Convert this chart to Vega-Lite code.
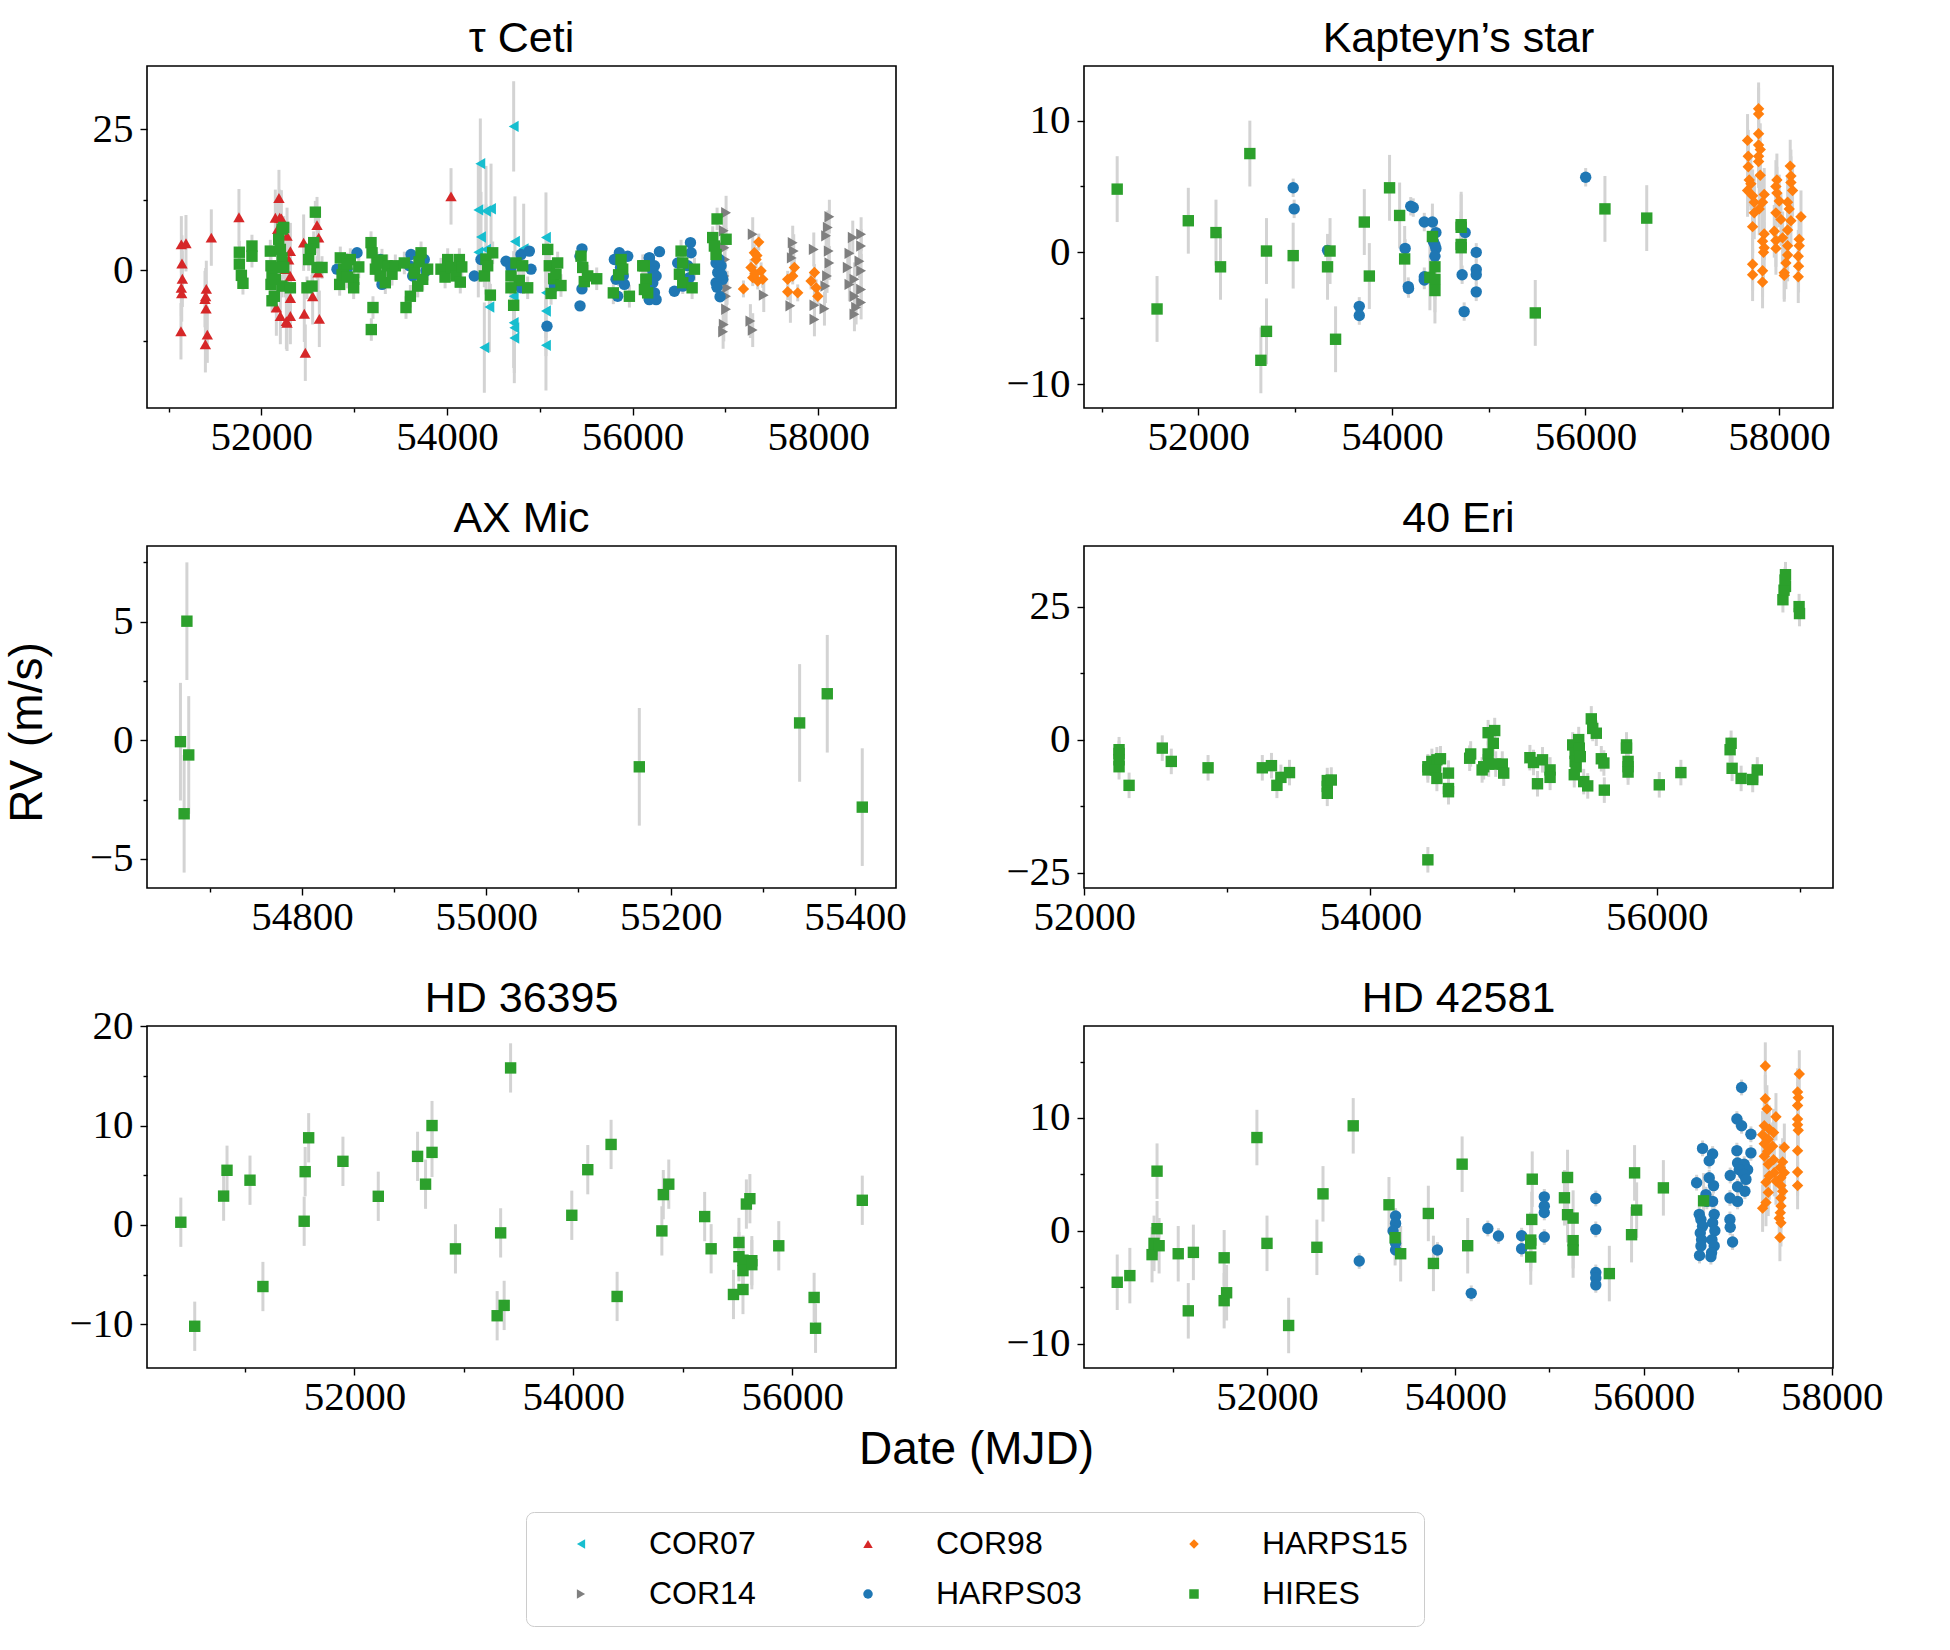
{
  "$schema": "https://vega.github.io/schema/vega-lite/v6.json",
  "background": "white",
  "padding": {"left": 3, "top": 17, "right": 5, "bottom": 5},
  "config": {
    "view": {"stroke": "black", "strokeWidth": 1.6},
    "axis": {"domain": false, "grid": false, "tickColor": "black", "tickWidth": 1.4, "tickSize": 7, "labelFont": "Liberation Serif", "labelFontSize": 41, "labelColor": "black", "labelFlush": false, "labelOverlap": false, "titleFont": "Liberation Sans", "titleFontSize": 46, "titleFontWeight": "normal", "titleColor": "black"},
    "axisX": {"labelPadding": 2},
    "axisY": {"labelPadding": 7},
    "title": {"font": "Liberation Sans", "fontSize": 43, "fontWeight": "normal", "color": "black", "offset": 5, "frame": "group"},
    "legend": {"labelFont": "Liberation Sans", "labelFontSize": 32, "labelColor": "black", "symbolSize": 90, "symbolStrokeWidth": 0, "symbolOpacity": 1}
  },
  "datasets": {
    "tau": [
      {"i":"COR07","t":54719,"v":25.5,"e":8},{"i":"COR07","t":54360,"v":18.9,"e":8},{"i":"COR07","t":54338,"v":10.7,"e":8},{"i":"COR07","t":54421,"v":10.5,"e":8},{"i":"COR07","t":54475,"v":10.9,"e":8},{"i":"COR07","t":54367,"v":5.9,"e":8},{"i":"COR07","t":54338,"v":3.2,"e":8},{"i":"COR07","t":54421,"v":3.7,"e":8},{"i":"COR07","t":54457,"v":-6.5,"e":8},{"i":"COR07","t":54403,"v":-13.7,"e":8},{"i":"COR07","t":54733,"v":5.1,"e":8},{"i":"COR07","t":54719,"v":-4.6,"e":8},{"i":"COR07","t":54719,"v":-9.3,"e":8},{"i":"COR07","t":54726,"v":-10.2,"e":8},{"i":"COR07","t":54726,"v":-12.0,"e":8},{"i":"COR07","t":55067,"v":5.8,"e":8},{"i":"COR07","t":55067,"v":-4.0,"e":8},{"i":"COR07","t":55067,"v":-7.2,"e":8},{"i":"COR07","t":55067,"v":-13.3,"e":8},{"i":"COR07","t":54827,"v":3.8,"e":8},
      {"i":"COR14","t":57008,"v":10.2,"e":3},{"i":"COR14","t":56983,"v":7.0,"e":3},{"i":"COR14","t":56990,"v":4.0,"e":3},{"i":"COR14","t":56997,"v":1.9,"e":3},{"i":"COR14","t":56990,"v":-1.0,"e":3},{"i":"COR14","t":57019,"v":-3.1,"e":3},{"i":"COR14","t":57008,"v":-4.6,"e":3},{"i":"COR14","t":57008,"v":-6.9,"e":3},{"i":"COR14","t":56983,"v":-9.6,"e":3},{"i":"COR14","t":56976,"v":-10.9,"e":3},{"i":"COR14","t":57295,"v":6.4,"e":3},{"i":"COR14","t":57270,"v":-9.0,"e":3},{"i":"COR14","t":57295,"v":-10.6,"e":3},{"i":"COR14","t":57414,"v":-4.4,"e":3},{"i":"COR14","t":57726,"v":4.9,"e":3},{"i":"COR14","t":57737,"v":3.4,"e":3},{"i":"COR14","t":57716,"v":2.2,"e":3},{"i":"COR14","t":57953,"v":3.7,"e":3},{"i":"COR14","t":57701,"v":-6.3,"e":3},{"i":"COR14","t":57960,"v":-6.2,"e":3},{"i":"COR14","t":57960,"v":-8.7,"e":3},{"i":"COR14","t":58121,"v":9.5,"e":3},{"i":"COR14","t":58104,"v":7.6,"e":3},{"i":"COR14","t":58086,"v":6.1,"e":3},{"i":"COR14","t":58114,"v":3.4,"e":3},{"i":"COR14","t":58121,"v":1.3,"e":3},{"i":"COR14","t":58096,"v":-1.0,"e":3},{"i":"COR14","t":58078,"v":-2.8,"e":3},{"i":"COR14","t":58068,"v":-6.8,"e":3},{"i":"COR14","t":58463,"v":6.4,"e":3},{"i":"COR14","t":58373,"v":5.8,"e":3},{"i":"COR14","t":58463,"v":4.3,"e":3},{"i":"COR14","t":58337,"v":3.0,"e":3},{"i":"COR14","t":58445,"v":1.6,"e":3},{"i":"COR14","t":58319,"v":0.5,"e":3},{"i":"COR14","t":58463,"v":-0.1,"e":3},{"i":"COR14","t":58391,"v":-1.6,"e":3},{"i":"COR14","t":58337,"v":-2.5,"e":3},{"i":"COR14","t":58463,"v":-3.4,"e":3},{"i":"COR14","t":58391,"v":-4.6,"e":3},{"i":"COR14","t":58463,"v":-5.7,"e":3},{"i":"COR14","t":58409,"v":-6.6,"e":3},{"i":"COR14","t":58391,"v":-7.8,"e":3},
      {"i":"COR98","t":51138,"v":4.6,"e":5},{"i":"COR98","t":51188,"v":4.8,"e":5},{"i":"COR98","t":51145,"v":1.2,"e":5},{"i":"COR98","t":51149,"v":-1.5,"e":5},{"i":"COR98","t":51138,"v":-3.1,"e":5},{"i":"COR98","t":51142,"v":-4.1,"e":5},{"i":"COR98","t":51134,"v":-10.8,"e":5},{"i":"COR98","t":51461,"v":5.8,"e":5},{"i":"COR98","t":51407,"v":-3.3,"e":5},{"i":"COR98","t":51400,"v":-4.6,"e":5},{"i":"COR98","t":51393,"v":-5.1,"e":5},{"i":"COR98","t":51404,"v":-6.8,"e":5},{"i":"COR98","t":51418,"v":-11.4,"e":5},{"i":"COR98","t":51397,"v":-13.1,"e":5},{"i":"COR98","t":51759,"v":9.4,"e":5},{"i":"COR98","t":52190,"v":12.8,"e":5},{"i":"COR98","t":52151,"v":9.3,"e":5},{"i":"COR98","t":52198,"v":9.3,"e":5},{"i":"COR98","t":52216,"v":9.2,"e":5},{"i":"COR98","t":52176,"v":7.3,"e":5},{"i":"COR98","t":52277,"v":6.1,"e":5},{"i":"COR98","t":52313,"v":3.4,"e":5},{"i":"COR98","t":52295,"v":1.9,"e":5},{"i":"COR98","t":52259,"v":0.2,"e":5},{"i":"COR98","t":52313,"v":-1.0,"e":5},{"i":"COR98","t":52295,"v":-2.8,"e":5},{"i":"COR98","t":52313,"v":-4.9,"e":5},{"i":"COR98","t":52162,"v":-6.6,"e":5},{"i":"COR98","t":52205,"v":-8.1,"e":5},{"i":"COR98","t":52270,"v":-9.0,"e":5},{"i":"COR98","t":52313,"v":-8.1,"e":5},{"i":"COR98","t":52277,"v":-9.3,"e":5},{"i":"COR98","t":52456,"v":4.9,"e":5},{"i":"COR98","t":52463,"v":-7.7,"e":5},{"i":"COR98","t":52474,"v":-14.6,"e":5},{"i":"COR98","t":52553,"v":-4.6,"e":5},{"i":"COR98","t":52600,"v":8.0,"e":5},{"i":"COR98","t":52618,"v":5.8,"e":5},{"i":"COR98","t":52625,"v":-8.6,"e":5},{"i":"COR98","t":52611,"v":-0.4,"e":5},{"i":"COR98","t":54044,"v":13.1,"e":5},
      {"i":"HARPS03","t":52815,"v":0.2,"e":0.6},{"i":"HARPS03","t":52923,"v":0.2,"e":0.6},{"i":"HARPS03","t":53031,"v":3.1,"e":0.6},{"i":"HARPS03","t":53282,"v":1.9,"e":0.6},{"i":"HARPS03","t":53300,"v":-2.5,"e":0.6},{"i":"HARPS03","t":53613,"v":2.8,"e":0.6},{"i":"HARPS03","t":53595,"v":0.8,"e":0.6},{"i":"HARPS03","t":53631,"v":-1.0,"e":0.6},{"i":"HARPS03","t":53756,"v":1.9,"e":0.6},{"i":"HARPS03","t":53774,"v":-0.1,"e":0.6},{"i":"HARPS03","t":54295,"v":-1.0,"e":0.6},{"i":"HARPS03","t":54367,"v":1.9,"e":0.6},{"i":"HARPS03","t":54637,"v":1.6,"e":0.6},{"i":"HARPS03","t":54690,"v":0.5,"e":0.6},{"i":"HARPS03","t":54798,"v":2.8,"e":0.6},{"i":"HARPS03","t":54888,"v":3.4,"e":0.6},{"i":"HARPS03","t":54906,"v":0.2,"e":0.6},{"i":"HARPS03","t":54798,"v":-3.1,"e":0.6},{"i":"HARPS03","t":55078,"v":-9.9,"e":0.6},{"i":"HARPS03","t":55157,"v":-2.8,"e":0.6},{"i":"HARPS03","t":55455,"v":3.8,"e":0.6},{"i":"HARPS03","t":55434,"v":2.5,"e":0.6},{"i":"HARPS03","t":55455,"v":-3.3,"e":0.6},{"i":"HARPS03","t":55434,"v":-6.3,"e":0.6},{"i":"HARPS03","t":55804,"v":1.9,"e":0.6},{"i":"HARPS03","t":55858,"v":3.1,"e":0.6},{"i":"HARPS03","t":55948,"v":2.5,"e":0.6},{"i":"HARPS03","t":55822,"v":-1.6,"e":0.6},{"i":"HARPS03","t":55912,"v":-2.5,"e":0.6},{"i":"HARPS03","t":55840,"v":-4.6,"e":0.6},{"i":"HARPS03","t":55870,"v":0.5,"e":0.6},{"i":"HARPS03","t":55900,"v":-1.0,"e":0.6},{"i":"HARPS03","t":56181,"v":2.2,"e":0.6},{"i":"HARPS03","t":56181,"v":-5.2,"e":0.6},{"i":"HARPS03","t":56290,"v":3.3,"e":0.6},{"i":"HARPS03","t":56182,"v":2.2,"e":0.6},{"i":"HARPS03","t":56236,"v":0.8,"e":0.6},{"i":"HARPS03","t":56220,"v":-0.2,"e":0.6},{"i":"HARPS03","t":56254,"v":-1.0,"e":0.6},{"i":"HARPS03","t":56218,"v":-2.2,"e":0.6},{"i":"HARPS03","t":56236,"v":-4.0,"e":0.6},{"i":"HARPS03","t":56254,"v":-5.2,"e":0.6},{"i":"HARPS03","t":56451,"v":-3.7,"e":0.6},{"i":"HARPS03","t":56624,"v":4.9,"e":0.6},{"i":"HARPS03","t":56631,"v":3.1,"e":0.6},{"i":"HARPS03","t":56487,"v":1.3,"e":0.6},{"i":"HARPS03","t":56595,"v":0.8,"e":0.6},{"i":"HARPS03","t":56613,"v":-1.3,"e":0.6},{"i":"HARPS03","t":56541,"v":-2.8,"e":0.6},{"i":"HARPS03","t":56900,"v":1.3,"e":0.6},{"i":"HARPS03","t":56954,"v":0.8,"e":0.6},{"i":"HARPS03","t":56918,"v":-0.4,"e":0.6},{"i":"HARPS03","t":56972,"v":-1.6,"e":0.6},{"i":"HARPS03","t":56900,"v":-2.2,"e":0.6},{"i":"HARPS03","t":56943,"v":-4.7,"e":0.6},{"i":"HARPS03","t":56930,"v":2.0,"e":0.6},{"i":"HARPS03","t":56960,"v":-0.8,"e":0.6},{"i":"HARPS03","t":56910,"v":-3.0,"e":0.6},
      {"i":"HARPS15","t":57360,"v":5.0,"e":1.5},{"i":"HARPS15","t":57313,"v":3.1,"e":1.5},{"i":"HARPS15","t":57331,"v":1.9,"e":1.5},{"i":"HARPS15","t":57277,"v":0.5,"e":1.5},{"i":"HARPS15","t":57385,"v":-0.1,"e":1.5},{"i":"HARPS15","t":57295,"v":-1.3,"e":1.5},{"i":"HARPS15","t":57349,"v":-1.9,"e":1.5},{"i":"HARPS15","t":57403,"v":-1.6,"e":1.5},{"i":"HARPS15","t":57195,"v":-3.3,"e":1.5},{"i":"HARPS15","t":57744,"v":0.5,"e":1.5},{"i":"HARPS15","t":57726,"v":-1.0,"e":1.5},{"i":"HARPS15","t":57672,"v":-1.6,"e":1.5},{"i":"HARPS15","t":57780,"v":-4.0,"e":1.5},{"i":"HARPS15","t":57672,"v":-3.8,"e":1.5},{"i":"HARPS15","t":57960,"v":-0.4,"e":1.5},{"i":"HARPS15","t":57924,"v":-1.9,"e":1.5},{"i":"HARPS15","t":57978,"v":-3.1,"e":1.5},{"i":"HARPS15","t":57996,"v":-4.6,"e":1.5},{"i":"HARPS15","t":57340,"v":2.6,"e":1.5},{"i":"HARPS15","t":57320,"v":-0.6,"e":1.5},
      {"i":"HIRES","t":51763,"v":3.2,"e":2},{"i":"HIRES","t":51763,"v":1.1,"e":2},{"i":"HIRES","t":51785,"v":-0.9,"e":2},{"i":"HIRES","t":51802,"v":-2.3,"e":2},{"i":"HIRES","t":51899,"v":4.3,"e":2},{"i":"HIRES","t":51899,"v":2.5,"e":2},{"i":"HIRES","t":52097,"v":3.4,"e":2},{"i":"HIRES","t":52104,"v":0.8,"e":2},{"i":"HIRES","t":52115,"v":-1.0,"e":2},{"i":"HIRES","t":52104,"v":-2.5,"e":2},{"i":"HIRES","t":52115,"v":-5.4,"e":2},{"i":"HIRES","t":52140,"v":-4.6,"e":2},{"i":"HIRES","t":52187,"v":5.5,"e":2},{"i":"HIRES","t":52223,"v":7.3,"e":2},{"i":"HIRES","t":52241,"v":7.6,"e":2},{"i":"HIRES","t":52205,"v":3.7,"e":2},{"i":"HIRES","t":52223,"v":2.2,"e":2},{"i":"HIRES","t":52187,"v":0.5,"e":2},{"i":"HIRES","t":52241,"v":0.5,"e":2},{"i":"HIRES","t":52223,"v":-2.8,"e":2},{"i":"HIRES","t":52313,"v":-3.1,"e":2},{"i":"HIRES","t":52151,"v":-1.6,"e":2},{"i":"HIRES","t":52582,"v":10.3,"e":2},{"i":"HIRES","t":52564,"v":4.9,"e":2},{"i":"HIRES","t":52528,"v":3.7,"e":2},{"i":"HIRES","t":52510,"v":1.9,"e":2},{"i":"HIRES","t":52600,"v":0.5,"e":2},{"i":"HIRES","t":52492,"v":-3.1,"e":2},{"i":"HIRES","t":52546,"v":-2.8,"e":2},{"i":"HIRES","t":52654,"v":0.5,"e":2},{"i":"HIRES","t":52851,"v":2.2,"e":2},{"i":"HIRES","t":52887,"v":0.2,"e":2},{"i":"HIRES","t":52959,"v":1.9,"e":2},{"i":"HIRES","t":52995,"v":-1.6,"e":2},{"i":"HIRES","t":52844,"v":-2.5,"e":2},{"i":"HIRES","t":52995,"v":-3.1,"e":2},{"i":"HIRES","t":52923,"v":1.1,"e":2},{"i":"HIRES","t":52870,"v":-0.8,"e":2},{"i":"HIRES","t":52930,"v":-1.2,"e":2},{"i":"HIRES","t":53050,"v":0.6,"e":2},{"i":"HIRES","t":53182,"v":4.9,"e":2},{"i":"HIRES","t":53193,"v":3.1,"e":2},{"i":"HIRES","t":53229,"v":0.2,"e":2},{"i":"HIRES","t":53282,"v":-1.0,"e":2},{"i":"HIRES","t":53300,"v":1.8,"e":2},{"i":"HIRES","t":53354,"v":0.8,"e":2},{"i":"HIRES","t":53408,"v":-0.7,"e":2},{"i":"HIRES","t":53336,"v":-2.2,"e":2},{"i":"HIRES","t":53203,"v":-6.6,"e":2},{"i":"HIRES","t":53185,"v":-10.5,"e":2},{"i":"HIRES","t":53246,"v":1.3,"e":2},{"i":"HIRES","t":53444,"v":0.8,"e":2},
      {"i":"HIRES","t":53559,"v":-6.6,"e":2},{"i":"HIRES","t":53606,"v":-4.6,"e":2},{"i":"HIRES","t":53541,"v":1.3,"e":2},{"i":"HIRES","t":53649,"v":0.2,"e":2},{"i":"HIRES","t":53650,"v":-0.5,"e":2},{"i":"HIRES","t":53700,"v":1.5,"e":2},{"i":"HIRES","t":53721,"v":3.1,"e":2},{"i":"HIRES","t":53739,"v":-1.6,"e":2},{"i":"HIRES","t":53685,"v":-2.8,"e":2},{"i":"HIRES","t":53792,"v":0.2,"e":2},{"i":"HIRES","t":53936,"v":0.2,"e":2},{"i":"HIRES","t":53980,"v":-1.2,"e":2},{"i":"HIRES","t":54008,"v":1.9,"e":2},{"i":"HIRES","t":54050,"v":0.5,"e":2},{"i":"HIRES","t":54098,"v":-1.0,"e":2},{"i":"HIRES","t":54144,"v":-2.1,"e":2},{"i":"HIRES","t":54134,"v":1.9,"e":2},{"i":"HIRES","t":54160,"v":0.6,"e":2},{"i":"HIRES","t":54403,"v":-1.0,"e":2},{"i":"HIRES","t":54420,"v":2.0,"e":2},{"i":"HIRES","t":54493,"v":3.1,"e":2},{"i":"HIRES","t":54439,"v":0.8,"e":2},{"i":"HIRES","t":54468,"v":-4.4,"e":2},{"i":"HIRES","t":54690,"v":-1.0,"e":2},{"i":"HIRES","t":54744,"v":1.3,"e":2},{"i":"HIRES","t":54719,"v":-6.2,"e":2},{"i":"HIRES","t":54780,"v":-1.8,"e":2},{"i":"HIRES","t":54816,"v":0.8,"e":2},{"i":"HIRES","t":54870,"v":-3.1,"e":2},{"i":"HIRES","t":54690,"v":-3.1,"e":2},{"i":"HIRES","t":55086,"v":3.7,"e":2},{"i":"HIRES","t":55103,"v":0.8,"e":2},{"i":"HIRES","t":55150,"v":-1.5,"e":2},{"i":"HIRES","t":55193,"v":1.3,"e":2},{"i":"HIRES","t":55175,"v":-0.7,"e":2},{"i":"HIRES","t":55229,"v":-2.7,"e":2},{"i":"HIRES","t":55122,"v":-4.1,"e":2},{"i":"HIRES","t":55445,"v":2.5,"e":2},{"i":"HIRES","t":55463,"v":0.5,"e":2},{"i":"HIRES","t":55480,"v":-2.0,"e":2},{"i":"HIRES","t":55517,"v":-1.0,"e":2},{"i":"HIRES","t":55614,"v":-1.5,"e":2},{"i":"HIRES","t":55876,"v":1.9,"e":2},{"i":"HIRES","t":55894,"v":0.2,"e":2},{"i":"HIRES","t":55850,"v":-0.8,"e":2},{"i":"HIRES","t":55793,"v":-4.0,"e":2},{"i":"HIRES","t":55966,"v":-4.6,"e":2},{"i":"HIRES","t":56127,"v":0.8,"e":2},{"i":"HIRES","t":56145,"v":-1.6,"e":2},{"i":"HIRES","t":56163,"v":-4.0,"e":2},
      {"i":"HIRES","t":56110,"v":0.8,"e":2},{"i":"HIRES","t":56146,"v":-1.6,"e":2},{"i":"HIRES","t":56128,"v":-3.4,"e":2},{"i":"HIRES","t":56523,"v":3.4,"e":2},{"i":"HIRES","t":56541,"v":1.3,"e":2},{"i":"HIRES","t":56505,"v":-0.7,"e":2},{"i":"HIRES","t":56541,"v":-2.2,"e":2},{"i":"HIRES","t":56667,"v":0.2,"e":2},{"i":"HIRES","t":56642,"v":-3.1,"e":2},{"i":"HIRES","t":56911,"v":9.1,"e":2},{"i":"HIRES","t":56864,"v":5.8,"e":2},{"i":"HIRES","t":56882,"v":4.3,"e":2},{"i":"HIRES","t":56900,"v":2.8,"e":2},{"i":"HIRES","t":57008,"v":5.5,"e":2}
    ],
    "kap": [
      {"i":"HARPS03","t":52980,"v":4.9,"e":0.7},{"i":"HARPS03","t":52990,"v":3.3,"e":0.7},{"i":"HARPS03","t":53335,"v":0.15,"e":0.7},{"i":"HARPS03","t":53663,"v":-4.1,"e":0.7},{"i":"HARPS03","t":53663,"v":-4.8,"e":0.7},{"i":"HARPS03","t":54137,"v":0.3,"e":0.7},{"i":"HARPS03","t":54169,"v":-2.6,"e":0.7},{"i":"HARPS03","t":54172,"v":-2.75,"e":0.7},{"i":"HARPS03","t":54195,"v":3.5,"e":0.7},{"i":"HARPS03","t":54221,"v":3.4,"e":0.7},{"i":"HARPS03","t":54335,"v":2.3,"e":0.7},{"i":"HARPS03","t":54419,"v":2.3,"e":0.7},{"i":"HARPS03","t":54455,"v":1.5,"e":0.7},{"i":"HARPS03","t":54430,"v":0.8,"e":0.7},{"i":"HARPS03","t":54445,"v":0.55,"e":0.7},{"i":"HARPS03","t":54455,"v":0.3,"e":0.7},{"i":"HARPS03","t":54445,"v":-0.3,"e":0.7},{"i":"HARPS03","t":54335,"v":-1.85,"e":0.7},{"i":"HARPS03","t":54335,"v":-2.1,"e":0.7},{"i":"HARPS03","t":54726,"v":-1.7,"e":0.7},{"i":"HARPS03","t":54757,"v":1.5,"e":0.7},{"i":"HARPS03","t":54747,"v":-4.5,"e":0.7},{"i":"HARPS03","t":54872,"v":0.0,"e":0.7},{"i":"HARPS03","t":54872,"v":-1.3,"e":0.7},{"i":"HARPS03","t":54872,"v":-1.7,"e":0.7},{"i":"HARPS03","t":54872,"v":-3.0,"e":0.7},{"i":"HARPS03","t":56003,"v":5.7,"e":0.7},
      {"i":"HARPS15","t":57790,"v":10.9,"e":2},{"i":"HARPS15","t":57790,"v":10.5,"e":2},{"i":"HARPS15","t":57676,"v":8.5,"e":2},{"i":"HARPS15","t":57790,"v":9.0,"e":2},{"i":"HARPS15","t":57790,"v":8.15,"e":2},{"i":"HARPS15","t":57807,"v":7.8,"e":2},{"i":"HARPS15","t":57790,"v":7.3,"e":2},{"i":"HARPS15","t":57790,"v":6.9,"e":2},{"i":"HARPS15","t":57683,"v":7.3,"e":2},{"i":"HARPS15","t":57683,"v":6.5,"e":2},{"i":"HARPS15","t":57807,"v":5.85,"e":2},{"i":"HARPS15","t":57693,"v":5.5,"e":2},{"i":"HARPS15","t":57710,"v":5.2,"e":2},{"i":"HARPS15","t":57676,"v":4.7,"e":2},{"i":"HARPS15","t":57728,"v":4.3,"e":2},{"i":"HARPS15","t":57745,"v":3.8,"e":2},{"i":"HARPS15","t":57848,"v":4.4,"e":2},{"i":"HARPS15","t":57831,"v":3.8,"e":2},{"i":"HARPS15","t":57797,"v":3.3,"e":2},{"i":"HARPS15","t":57745,"v":3.0,"e":2},{"i":"HARPS15","t":57728,"v":1.95,"e":2},{"i":"HARPS15","t":57848,"v":1.4,"e":2},{"i":"HARPS15","t":57831,"v":0.85,"e":2},{"i":"HARPS15","t":57848,"v":0.35,"e":2},{"i":"HARPS15","t":57841,"v":0.0,"e":2},{"i":"HARPS15","t":57728,"v":-0.9,"e":2},{"i":"HARPS15","t":57728,"v":-1.7,"e":2},{"i":"HARPS15","t":57831,"v":-1.4,"e":2},{"i":"HARPS15","t":57831,"v":-2.25,"e":2},{"i":"HARPS15","t":58117,"v":6.55,"e":2},{"i":"HARPS15","t":58124,"v":5.8,"e":2},{"i":"HARPS15","t":58124,"v":5.3,"e":2},{"i":"HARPS15","t":57979,"v":5.5,"e":2},{"i":"HARPS15","t":57969,"v":5.0,"e":2},{"i":"HARPS15","t":57979,"v":4.5,"e":2},{"i":"HARPS15","t":58141,"v":4.7,"e":2},{"i":"HARPS15","t":58228,"v":2.7,"e":2},{"i":"HARPS15","t":58003,"v":3.9,"e":2},{"i":"HARPS15","t":58090,"v":3.8,"e":2},{"i":"HARPS15","t":57969,"v":3.0,"e":2},{"i":"HARPS15","t":58107,"v":3.3,"e":2},{"i":"HARPS15","t":58021,"v":2.5,"e":2},{"i":"HARPS15","t":58124,"v":2.4,"e":2},{"i":"HARPS15","t":57952,"v":1.6,"e":2},{"i":"HARPS15","t":58090,"v":1.7,"e":2},{"i":"HARPS15","t":58038,"v":1.1,"e":2},{"i":"HARPS15","t":58210,"v":1.0,"e":2},{"i":"HARPS15","t":57969,"v":0.9,"e":2},{"i":"HARPS15","t":58090,"v":0.5,"e":2},{"i":"HARPS15","t":58210,"v":0.5,"e":2},{"i":"HARPS15","t":57969,"v":0.3,"e":2},{"i":"HARPS15","t":58090,"v":-0.2,"e":2},{"i":"HARPS15","t":58200,"v":-0.3,"e":2},{"i":"HARPS15","t":58072,"v":-0.8,"e":2},{"i":"HARPS15","t":58203,"v":-1.05,"e":2},{"i":"HARPS15","t":58055,"v":-1.55,"e":2},{"i":"HARPS15","t":58200,"v":-1.85,"e":2},{"i":"HARPS15","t":58055,"v":-1.75,"e":2},
      {"i":"HIRES","t":51161,"v":4.8,"e":2.5},{"i":"HIRES","t":51573,"v":-4.3,"e":2.5},{"i":"HIRES","t":51896,"v":2.4,"e":2.5},{"i":"HIRES","t":52182,"v":1.5,"e":2.5},{"i":"HIRES","t":52229,"v":-1.1,"e":2.5},{"i":"HIRES","t":52532,"v":7.5,"e":2.5},{"i":"HIRES","t":52646,"v":-8.2,"e":2.5},{"i":"HIRES","t":52704,"v":0.1,"e":2.5},{"i":"HIRES","t":52704,"v":-6.0,"e":2.5},{"i":"HIRES","t":52980,"v":-0.25,"e":2.5},{"i":"HIRES","t":53335,"v":-1.1,"e":2.5},{"i":"HIRES","t":53361,"v":0.1,"e":2.5},{"i":"HIRES","t":53418,"v":-6.6,"e":2.5},{"i":"HIRES","t":53715,"v":2.3,"e":2.5},{"i":"HIRES","t":53767,"v":-1.8,"e":2.5},{"i":"HIRES","t":53976,"v":4.9,"e":2.5},{"i":"HIRES","t":54080,"v":2.8,"e":2.5},{"i":"HIRES","t":54132,"v":-0.5,"e":2.5},{"i":"HIRES","t":54393,"v":-1.9,"e":2.5},{"i":"HIRES","t":54419,"v":1.2,"e":2.5},{"i":"HIRES","t":54445,"v":-1.1,"e":2.5},{"i":"HIRES","t":54445,"v":-2.05,"e":2.5},{"i":"HIRES","t":54445,"v":-2.9,"e":2.5},{"i":"HIRES","t":54716,"v":2.1,"e":2.5},{"i":"HIRES","t":54716,"v":1.9,"e":2.5},{"i":"HIRES","t":54716,"v":0.6,"e":2.5},{"i":"HIRES","t":54716,"v":0.35,"e":2.5},{"i":"HIRES","t":55482,"v":-4.6,"e":2.5},{"i":"HIRES","t":56202,"v":3.3,"e":2.5},{"i":"HIRES","t":56634,"v":2.6,"e":2.5}
    ],
    "ax": [
      {"i":"HIRES","t":54668,"v":-0.06,"e":2.48},{"i":"HIRES","t":54675,"v":5.02,"e":2.48},{"i":"HIRES","t":54677,"v":-0.62,"e":2.48},{"i":"HIRES","t":54672,"v":-3.1,"e":2.48},{"i":"HIRES","t":55166,"v":-1.12,"e":2.48},{"i":"HIRES","t":55340,"v":0.73,"e":2.48},{"i":"HIRES","t":55370,"v":1.96,"e":2.48},{"i":"HIRES","t":55408,"v":-2.82,"e":2.48}
    ],
    "eri": [
      {"i":"HIRES","t":52243,"v":-2.6,"e":2.4},{"i":"HIRES","t":52243,"v":-3.8,"e":2.4},{"i":"HIRES","t":52243,"v":-5.1,"e":2.4},{"i":"HIRES","t":52243,"v":-1.9,"e":2.4},{"i":"HIRES","t":52313,"v":-8.6,"e":2.4},{"i":"HIRES","t":52545,"v":-1.6,"e":2.4},{"i":"HIRES","t":52608,"v":-4.1,"e":2.4},{"i":"HIRES","t":52865,"v":-5.3,"e":2.4},{"i":"HIRES","t":53244,"v":-5.3,"e":2.4},{"i":"HIRES","t":53308,"v":-4.9,"e":2.4},{"i":"HIRES","t":53346,"v":-8.6,"e":2.4},{"i":"HIRES","t":53374,"v":-7.1,"e":2.4},{"i":"HIRES","t":53434,"v":-6.2,"e":2.4},{"i":"HIRES","t":53698,"v":-7.7,"e":2.4},{"i":"HIRES","t":53698,"v":-8.8,"e":2.4},{"i":"HIRES","t":53698,"v":-10.1,"e":2.4},{"i":"HIRES","t":53726,"v":-7.6,"e":2.4},{"i":"HIRES","t":54401,"v":-22.6,"e":2.4},{"i":"HIRES","t":54401,"v":-5.1,"e":2.4},{"i":"HIRES","t":54401,"v":-5.7,"e":2.4},{"i":"HIRES","t":54429,"v":-4.1,"e":2.4},{"i":"HIRES","t":54464,"v":-3.8,"e":2.4},{"i":"HIRES","t":54489,"v":-3.6,"e":2.4},{"i":"HIRES","t":54454,"v":-5.7,"e":2.4},{"i":"HIRES","t":54464,"v":-7.3,"e":2.4},{"i":"HIRES","t":54545,"v":-6.3,"e":2.4},{"i":"HIRES","t":54545,"v":-9.2,"e":2.4},{"i":"HIRES","t":54545,"v":-9.8,"e":2.4},{"i":"HIRES","t":54693,"v":-3.5,"e":2.4},{"i":"HIRES","t":54700,"v":-2.7,"e":2.4},{"i":"HIRES","t":54780,"v":-5.7,"e":2.4},{"i":"HIRES","t":54791,"v":-5.1,"e":2.4},{"i":"HIRES","t":54822,"v":1.3,"e":2.4},{"i":"HIRES","t":54868,"v":1.7,"e":2.4},{"i":"HIRES","t":54858,"v":-0.7,"e":2.4},{"i":"HIRES","t":54822,"v":-2.7,"e":2.4},{"i":"HIRES","t":54826,"v":-4.6,"e":2.4},{"i":"HIRES","t":54875,"v":-4.6,"e":2.4},{"i":"HIRES","t":54921,"v":-4.6,"e":2.4},{"i":"HIRES","t":54931,"v":-6.3,"e":2.4},{"i":"HIRES","t":55114,"v":-3.4,"e":2.4},{"i":"HIRES","t":55139,"v":-4.3,"e":2.4},{"i":"HIRES","t":55167,"v":-8.3,"e":2.4},{"i":"HIRES","t":55202,"v":-3.8,"e":2.4},{"i":"HIRES","t":55255,"v":-5.7,"e":2.4},{"i":"HIRES","t":55255,"v":-7.1,"e":2.4},{"i":"HIRES","t":55413,"v":-1.0,"e":2.4},{"i":"HIRES","t":55424,"v":-6.6,"e":2.4},{"i":"HIRES","t":55430,"v":-2.6,"e":2.4},{"i":"HIRES","t":55430,"v":-4.1,"e":2.4},{"i":"HIRES","t":55437,"v":-5.1,"e":2.4},{"i":"HIRES","t":55455,"v":0.0,"e":2.4},{"i":"HIRES","t":55459,"v":-1.6,"e":2.4},{"i":"HIRES","t":55466,"v":-3.2,"e":2.4},{"i":"HIRES","t":55490,"v":-7.9,"e":2.4},{"i":"HIRES","t":55518,"v":-8.7,"e":2.4},{"i":"HIRES","t":55543,"v":3.9,"e":2.4},{"i":"HIRES","t":55553,"v":2.1,"e":2.4},{"i":"HIRES","t":55578,"v":1.2,"e":2.4},{"i":"HIRES","t":55613,"v":-3.6,"e":2.4},{"i":"HIRES","t":55631,"v":-4.4,"e":2.4},{"i":"HIRES","t":55634,"v":-9.5,"e":2.4},{"i":"HIRES","t":55789,"v":-1.0,"e":2.4},{"i":"HIRES","t":55789,"v":-1.6,"e":2.4},{"i":"HIRES","t":55800,"v":-4.1,"e":2.4},{"i":"HIRES","t":55800,"v":-5.1,"e":2.4},{"i":"HIRES","t":55800,"v":-6.1,"e":2.4},{"i":"HIRES","t":56018,"v":-8.5,"e":2.4},{"i":"HIRES","t":56169,"v":-6.2,"e":2.4},{"i":"HIRES","t":56520,"v":-0.7,"e":2.4},{"i":"HIRES","t":56513,"v":-1.9,"e":2.4},{"i":"HIRES","t":56527,"v":-5.4,"e":2.4},{"i":"HIRES","t":56590,"v":-7.3,"e":2.4},{"i":"HIRES","t":56671,"v":-7.5,"e":2.4},{"i":"HIRES","t":56703,"v":-5.7,"e":2.4},{"i":"HIRES","t":56882,"v":26.3,"e":2.4},{"i":"HIRES","t":56900,"v":31.0,"e":2.4},{"i":"HIRES","t":56900,"v":28.8,"e":2.4},{"i":"HIRES","t":56890,"v":28.1,"e":2.4},{"i":"HIRES","t":56897,"v":30.0,"e":2.4},{"i":"HIRES","t":56995,"v":25.0,"e":2.4},{"i":"HIRES","t":56998,"v":23.7,"e":2.4}
    ],
    "hd36": [
      {"i":"HIRES","t":50414,"v":0.27,"e":2.48},{"i":"HIRES","t":50541,"v":-10.2,"e":2.48},{"i":"HIRES","t":50805,"v":2.9,"e":2.48},{"i":"HIRES","t":50836,"v":5.5,"e":2.48},{"i":"HIRES","t":51046,"v":4.5,"e":2.48},{"i":"HIRES","t":51164,"v":-6.2,"e":2.48},{"i":"HIRES","t":51541,"v":0.37,"e":2.48},{"i":"HIRES","t":51550,"v":5.36,"e":2.48},{"i":"HIRES","t":51582,"v":8.77,"e":2.48},{"i":"HIRES","t":51895,"v":6.4,"e":2.48},{"i":"HIRES","t":52218,"v":2.88,"e":2.48},{"i":"HIRES","t":52577,"v":6.9,"e":2.48},{"i":"HIRES","t":52650,"v":4.1,"e":2.48},{"i":"HIRES","t":52709,"v":10.0,"e":2.48},{"i":"HIRES","t":52709,"v":7.3,"e":2.48},{"i":"HIRES","t":52923,"v":-2.41,"e":2.48},{"i":"HIRES","t":53304,"v":-9.14,"e":2.48},{"i":"HIRES","t":53336,"v":-0.8,"e":2.48},{"i":"HIRES","t":53368,"v":-8.1,"e":2.48},{"i":"HIRES","t":53427,"v":15.8,"e":2.48},{"i":"HIRES","t":53986,"v":0.97,"e":2.48},{"i":"HIRES","t":54132,"v":5.56,"e":2.48},{"i":"HIRES","t":54345,"v":8.1,"e":2.48},{"i":"HIRES","t":54400,"v":-7.2,"e":2.48},{"i":"HIRES","t":54809,"v":-0.6,"e":2.48},{"i":"HIRES","t":54822,"v":3.05,"e":2.48},{"i":"HIRES","t":54872,"v":4.1,"e":2.48},{"i":"HIRES","t":55200,"v":0.84,"e":2.48},{"i":"HIRES","t":55259,"v":-2.4,"e":2.48},{"i":"HIRES","t":55463,"v":-7.0,"e":2.48},{"i":"HIRES","t":55513,"v":-1.77,"e":2.48},{"i":"HIRES","t":55513,"v":-3.2,"e":2.48},{"i":"HIRES","t":55550,"v":-3.55,"e":2.48},{"i":"HIRES","t":55550,"v":-4.6,"e":2.48},{"i":"HIRES","t":55550,"v":-6.5,"e":2.48},{"i":"HIRES","t":55581,"v":2.1,"e":2.48},{"i":"HIRES","t":55613,"v":2.64,"e":2.48},{"i":"HIRES","t":55631,"v":-3.6,"e":2.48},{"i":"HIRES","t":55631,"v":-4.0,"e":2.48},{"i":"HIRES","t":55877,"v":-2.1,"e":2.48},{"i":"HIRES","t":56200,"v":-7.3,"e":2.48},{"i":"HIRES","t":56213,"v":-10.4,"e":2.48},{"i":"HIRES","t":56640,"v":2.48,"e":2.48}
    ],
    "hd42": [
      {"i":"HARPS03","t":52980,"v":-2.68,"e":0.7},{"i":"HARPS03","t":53366,"v":1.3,"e":0.7},{"i":"HARPS03","t":53366,"v":0.65,"e":0.7},{"i":"HARPS03","t":53340,"v":-0.03,"e":0.7},{"i":"HARPS03","t":53366,"v":-1.12,"e":0.7},{"i":"HARPS03","t":53366,"v":-1.71,"e":0.7},{"i":"HARPS03","t":53811,"v":-1.71,"e":0.7},{"i":"HARPS03","t":54170,"v":-5.55,"e":0.7},{"i":"HARPS03","t":54346,"v":0.2,"e":0.7},{"i":"HARPS03","t":54459,"v":-0.47,"e":0.7},{"i":"HARPS03","t":54705,"v":-0.44,"e":0.7},{"i":"HARPS03","t":54705,"v":-1.6,"e":0.7},{"i":"HARPS03","t":54946,"v":3.0,"e":0.7},{"i":"HARPS03","t":54946,"v":2.18,"e":0.7},{"i":"HARPS03","t":54946,"v":1.62,"e":0.7},{"i":"HARPS03","t":54946,"v":-0.56,"e":0.7},{"i":"HARPS03","t":55493,"v":2.86,"e":0.7},{"i":"HARPS03","t":55493,"v":0.12,"e":0.7},{"i":"HARPS03","t":55493,"v":-3.7,"e":0.7},{"i":"HARPS03","t":55493,"v":-4.2,"e":0.7},{"i":"HARPS03","t":55493,"v":-4.8,"e":0.7},
      {"i":"HARPS03","t":56627,"v":7.3,"e":0.7},{"i":"HARPS03","t":56564,"v":4.26,"e":0.7},{"i":"HARPS03","t":56698,"v":6.2,"e":0.7},{"i":"HARPS03","t":56734,"v":6.8,"e":0.7},{"i":"HARPS03","t":56698,"v":4.7,"e":0.7},{"i":"HARPS03","t":56744,"v":4.0,"e":0.7},{"i":"HARPS03","t":56663,"v":3.2,"e":0.7},{"i":"HARPS03","t":56673,"v":2.6,"e":0.7},{"i":"HARPS03","t":56734,"v":2.6,"e":0.7},{"i":"HARPS03","t":56592,"v":1.45,"e":0.7},{"i":"HARPS03","t":56610,"v":1.0,"e":0.7},{"i":"HARPS03","t":56627,"v":0.4,"e":0.7},{"i":"HARPS03","t":56603,"v":-0.2,"e":0.7},{"i":"HARPS03","t":56617,"v":-0.8,"e":0.7},{"i":"HARPS03","t":56610,"v":-1.35,"e":0.7},{"i":"HARPS03","t":56595,"v":-2.2,"e":0.7},{"i":"HARPS03","t":56751,"v":1.45,"e":0.7},{"i":"HARPS03","t":56734,"v":0.7,"e":0.7},{"i":"HARPS03","t":56758,"v":0.0,"e":0.7},{"i":"HARPS03","t":56727,"v":-0.8,"e":0.7},{"i":"HARPS03","t":56751,"v":-1.35,"e":0.7},{"i":"HARPS03","t":56723,"v":-1.95,"e":0.7},{"i":"HARPS03","t":56716,"v":-2.3,"e":0.7},{"i":"HARPS03","t":57042,"v":12.7,"e":0.7},{"i":"HARPS03","t":56992,"v":9.9,"e":0.7},{"i":"HARPS03","t":57042,"v":9.3,"e":0.7},{"i":"HARPS03","t":57141,"v":8.55,"e":0.7},{"i":"HARPS03","t":56992,"v":7.1,"e":0.7},{"i":"HARPS03","t":57141,"v":6.9,"e":0.7},{"i":"HARPS03","t":56999,"v":6.0,"e":0.7},{"i":"HARPS03","t":57070,"v":5.9,"e":0.7},{"i":"HARPS03","t":57106,"v":5.4,"e":0.7},{"i":"HARPS03","t":57017,"v":5.4,"e":0.7},{"i":"HARPS03","t":56921,"v":4.9,"e":0.7},{"i":"HARPS03","t":57063,"v":5.0,"e":0.7},{"i":"HARPS03","t":57088,"v":4.55,"e":0.7},{"i":"HARPS03","t":56999,"v":3.9,"e":0.7},{"i":"HARPS03","t":57077,"v":3.5,"e":0.7},{"i":"HARPS03","t":56918,"v":2.9,"e":0.7},{"i":"HARPS03","t":56999,"v":2.6,"e":0.7},{"i":"HARPS03","t":56918,"v":1.0,"e":0.7},{"i":"HARPS03","t":56921,"v":0.3,"e":0.7},{"i":"HARPS03","t":56946,"v":-1.0,"e":0.7},
      {"i":"HARPS15","t":57294,"v":14.6,"e":2.1},{"i":"HARPS15","t":57655,"v":13.9,"e":2.1},{"i":"HARPS15","t":57294,"v":11.7,"e":2.1},{"i":"HARPS15","t":57311,"v":10.8,"e":2.1},{"i":"HARPS15","t":57637,"v":12.3,"e":2.1},{"i":"HARPS15","t":57644,"v":11.8,"e":2.1},{"i":"HARPS15","t":57637,"v":11.1,"e":2.1},{"i":"HARPS15","t":57407,"v":10.1,"e":2.1},{"i":"HARPS15","t":57637,"v":9.9,"e":2.1},{"i":"HARPS15","t":57637,"v":9.4,"e":2.1},{"i":"HARPS15","t":57644,"v":8.9,"e":2.1},{"i":"HARPS15","t":57283,"v":9.3,"e":2.1},{"i":"HARPS15","t":57336,"v":9.0,"e":2.1},{"i":"HARPS15","t":57382,"v":8.7,"e":2.1},{"i":"HARPS15","t":57265,"v":8.5,"e":2.1},{"i":"HARPS15","t":57325,"v":8.1,"e":2.1},{"i":"HARPS15","t":57283,"v":7.7,"e":2.1},{"i":"HARPS15","t":57372,"v":7.5,"e":2.1},{"i":"HARPS15","t":57318,"v":7.05,"e":2.1},{"i":"HARPS15","t":57496,"v":7.4,"e":2.1},{"i":"HARPS15","t":57637,"v":7.1,"e":2.1},{"i":"HARPS15","t":57283,"v":6.6,"e":2.1},{"i":"HARPS15","t":57382,"v":6.3,"e":2.1},{"i":"HARPS15","t":57325,"v":5.9,"e":2.1},{"i":"HARPS15","t":57478,"v":6.1,"e":2.1},{"i":"HARPS15","t":57453,"v":5.6,"e":2.1},{"i":"HARPS15","t":57389,"v":5.15,"e":2.1},{"i":"HARPS15","t":57496,"v":5.15,"e":2.1},{"i":"HARPS15","t":57336,"v":4.85,"e":2.1},{"i":"HARPS15","t":57460,"v":4.7,"e":2.1},{"i":"HARPS15","t":57407,"v":4.4,"e":2.1},{"i":"HARPS15","t":57301,"v":4.3,"e":2.1},{"i":"HARPS15","t":57460,"v":4.0,"e":2.1},{"i":"HARPS15","t":57637,"v":5.2,"e":2.1},{"i":"HARPS15","t":57637,"v":4.0,"e":2.1},{"i":"HARPS15","t":57478,"v":3.5,"e":2.1},{"i":"HARPS15","t":57460,"v":2.9,"e":2.1},{"i":"HARPS15","t":57325,"v":3.4,"e":2.1},{"i":"HARPS15","t":57301,"v":2.5,"e":2.1},{"i":"HARPS15","t":57265,"v":2.0,"e":2.1},{"i":"HARPS15","t":57460,"v":2.2,"e":2.1},{"i":"HARPS15","t":57453,"v":1.6,"e":2.1},{"i":"HARPS15","t":57442,"v":1.1,"e":2.1},{"i":"HARPS15","t":57460,"v":0.7,"e":2.1},{"i":"HARPS15","t":57449,"v":-0.6,"e":2.1},
      {"i":"HIRES","t":50409,"v":-4.57,"e":2.46},{"i":"HIRES","t":50543,"v":-3.98,"e":2.46},{"i":"HIRES","t":50779,"v":-2.12,"e":2.46},{"i":"HIRES","t":50800,"v":-1.12,"e":2.46},{"i":"HIRES","t":50832,"v":5.28,"e":2.46},{"i":"HIRES","t":50832,"v":0.18,"e":2.46},{"i":"HIRES","t":50854,"v":-1.33,"e":2.46},{"i":"HIRES","t":51057,"v":-2.04,"e":2.46},{"i":"HIRES","t":51164,"v":-7.1,"e":2.46},{"i":"HIRES","t":51218,"v":-1.92,"e":2.46},{"i":"HIRES","t":51545,"v":-2.4,"e":2.46},{"i":"HIRES","t":51545,"v":-6.2,"e":2.46},{"i":"HIRES","t":51571,"v":-5.5,"e":2.46},{"i":"HIRES","t":51893,"v":8.26,"e":2.46},{"i":"HIRES","t":52000,"v":-1.12,"e":2.46},{"i":"HIRES","t":52230,"v":-8.4,"e":2.46},{"i":"HIRES","t":52530,"v":-1.47,"e":2.46},{"i":"HIRES","t":52595,"v":3.27,"e":2.46},{"i":"HIRES","t":52916,"v":9.3,"e":2.46},{"i":"HIRES","t":53296,"v":2.3,"e":2.46},{"i":"HIRES","t":53361,"v":-0.62,"e":2.46},{"i":"HIRES","t":53420,"v":-2.04,"e":2.46},{"i":"HIRES","t":53714,"v":1.53,"e":2.46},{"i":"HIRES","t":53768,"v":-2.9,"e":2.46},{"i":"HIRES","t":54073,"v":5.9,"e":2.46},{"i":"HIRES","t":54132,"v":-1.33,"e":2.46},{"i":"HIRES","t":54818,"v":4.57,"e":2.46},{"i":"HIRES","t":54813,"v":1.0,"e":2.46},{"i":"HIRES","t":54802,"v":-0.83,"e":2.46},{"i":"HIRES","t":54802,"v":-1.15,"e":2.46},{"i":"HIRES","t":54802,"v":-2.33,"e":2.46},{"i":"HIRES","t":55160,"v":2.92,"e":2.46},{"i":"HIRES","t":55193,"v":4.72,"e":2.46},{"i":"HIRES","t":55193,"v":1.42,"e":2.46},{"i":"HIRES","t":55252,"v":1.12,"e":2.46},{"i":"HIRES","t":55252,"v":-0.88,"e":2.46},{"i":"HIRES","t":55252,"v":-1.71,"e":2.46},{"i":"HIRES","t":55637,"v":-3.8,"e":2.46},{"i":"HIRES","t":55873,"v":-0.35,"e":2.46},{"i":"HIRES","t":55905,"v":5.13,"e":2.46},{"i":"HIRES","t":55927,"v":1.83,"e":2.46},{"i":"HIRES","t":56211,"v":3.8,"e":2.46},{"i":"HIRES","t":56638,"v":2.65,"e":2.46}
    ]
  },
  "concat": [
    {
      "title": "τ Ceti", "width": 749, "height": 342, "data": {"name": "tau"},
      "layer": [
        {"mark": {"type": "errorbar", "ticks": false, "color": "#d3d3d3", "thickness": 3},
         "encoding": {
           "x": {"field": "t", "type": "quantitative", "scale": {"domain": [50768, 58839], "nice": false, "zero": false}, "axis": {"orient": "bottom", "values": [51000, 53000, 55000, 57000], "labels": false, "tickSize": 4, "title": null}},
           "y": {"field": "v", "type": "quantitative", "scale": {"domain": [-24.4, 36.2], "nice": false, "zero": false}, "axis": {"orient": "left", "values": [-12.5, 12.5], "labels": false, "tickSize": 4, "title": null}},
           "yError": {"field": "e"}}},
        {"mark": {"type": "point", "filled": true, "opacity": 1, "size": 130},
         "encoding": {
           "x": {"field": "t", "type": "quantitative", "axis": {"orient": "bottom", "values": [52000, 54000, 56000, 58000], "format": "d", "title": null}},
           "y": {"field": "v", "type": "quantitative", "axis": {"orient": "left", "values": [0, 25], "format": "d", "title": null}},
           "color": {"field": "i", "type": "nominal",
             "scale": {"domain": ["COR07", "COR14", "COR98", "HARPS03", "HARPS15", "HIRES"], "range": ["#17becf", "#7f7f7f", "#d62728", "#1f77b4", "#ff7f0e", "#2ca02c"]},
             "legend": {"title": null, "orient": "none", "legendX": 379, "legendY": 1446, "columns": 3, "symbolOffset": 23, "labelOffset": 52, "columnPadding": 73, "rowPadding": 18, "padding": 16, "strokeColor": "#cccccc", "cornerRadius": 8, "fillColor": "white"}},
           "shape": {"field": "i", "type": "nominal",
             "scale": {"domain": ["COR07", "COR14", "COR98", "HARPS03", "HARPS15", "HIRES"], "range": ["triangle-left", "triangle-right", "triangle-up", "circle", "diamond", "square"]},
             "legend": {"title": null, "orient": "none", "legendX": 379, "legendY": 1446, "columns": 3, "symbolOffset": 23, "labelOffset": 52, "columnPadding": 73, "rowPadding": 18, "padding": 16, "strokeColor": "#cccccc", "cornerRadius": 8, "fillColor": "white"}}}}
      ],
      "resolve": {"axis": {"x": "independent", "y": "independent"}}
    },
    {
      "title": "Kapteyn’s star", "width": 749, "height": 342, "data": {"name": "kap"},
      "layer": [
        {"mark": {"type": "errorbar", "ticks": false, "color": "#d3d3d3", "thickness": 3},
         "encoding": {
           "x": {"field": "t", "type": "quantitative", "scale": {"domain": [50818, 58559], "nice": false, "zero": false}, "axis": {"orient": "bottom", "values": [51000, 53000, 55000, 57000], "labels": false, "tickSize": 4, "title": null}},
           "y": {"field": "v", "type": "quantitative", "scale": {"domain": [-11.82, 14.15], "nice": false, "zero": false}, "axis": {"orient": "left", "values": [-5, 5], "labels": false, "tickSize": 4, "title": null}},
           "yError": {"field": "e"}}},
        {"mark": {"type": "point", "filled": true, "opacity": 1, "size": 130},
         "encoding": {
           "x": {"field": "t", "type": "quantitative", "axis": {"orient": "bottom", "values": [52000, 54000, 56000, 58000], "format": "d", "title": null}},
           "y": {"field": "v", "type": "quantitative", "axis": {"orient": "left", "values": [-10, 0, 10], "format": "d", "title": null}},
           "color": {"field": "i", "type": "nominal"},
           "shape": {"field": "i", "type": "nominal"}}}
      ],
      "resolve": {"axis": {"x": "independent", "y": "independent"}}
    },
    {
      "title": "AX Mic", "width": 749, "height": 342, "data": {"name": "ax"},
      "layer": [
        {"mark": {"type": "errorbar", "ticks": false, "color": "#d3d3d3", "thickness": 3},
         "encoding": {
           "x": {"field": "t", "type": "quantitative", "scale": {"domain": [54631.7, 55444.6], "nice": false, "zero": false}, "axis": {"orient": "bottom", "values": [54700, 54900, 55100, 55300], "labels": false, "tickSize": 4, "title": null}},
           "y": {"field": "v", "type": "quantitative", "scale": {"domain": [-6.23, 8.19], "nice": false, "zero": false}, "axis": {"orient": "left", "values": [-2.5, 2.5, 7.5], "labels": false, "tickSize": 4, "title": null}},
           "yError": {"field": "e"}}},
        {"mark": {"type": "point", "filled": true, "opacity": 1, "size": 130},
         "encoding": {
           "x": {"field": "t", "type": "quantitative", "axis": {"orient": "bottom", "values": [54800, 55000, 55200, 55400], "format": "d", "title": null}},
           "y": {"field": "v", "type": "quantitative", "axis": {"orient": "left", "values": [-5, 0, 5], "format": "d", "title": "RV (m/s)", "titleX": -106, "titleY": 186, "titleAngle": -90, "titleAlign": "center", "titleBaseline": "alphabetic"}},
           "color": {"field": "i", "type": "nominal"},
           "shape": {"field": "i", "type": "nominal"}}}
      ],
      "resolve": {"axis": {"x": "independent", "y": "independent"}}
    },
    {
      "title": "40 Eri", "width": 749, "height": 342, "data": {"name": "eri"},
      "layer": [
        {"mark": {"type": "errorbar", "ticks": false, "color": "#d3d3d3", "thickness": 3},
         "encoding": {
           "x": {"field": "t", "type": "quantitative", "scale": {"domain": [51998, 57232], "nice": false, "zero": false}, "axis": {"orient": "bottom", "values": [53000, 55000, 57000], "labels": false, "tickSize": 4, "title": null}},
           "y": {"field": "v", "type": "quantitative", "scale": {"domain": [-27.9, 36.4], "nice": false, "zero": false}, "axis": {"orient": "left", "values": [-12.5, 12.5], "labels": false, "tickSize": 4, "title": null}},
           "yError": {"field": "e"}}},
        {"mark": {"type": "point", "filled": true, "opacity": 1, "size": 130},
         "encoding": {
           "x": {"field": "t", "type": "quantitative", "axis": {"orient": "bottom", "values": [52000, 54000, 56000], "format": "d", "title": null}},
           "y": {"field": "v", "type": "quantitative", "axis": {"orient": "left", "values": [-25, 0, 25], "format": "d", "title": null}},
           "color": {"field": "i", "type": "nominal"},
           "shape": {"field": "i", "type": "nominal"}}}
      ],
      "resolve": {"axis": {"x": "independent", "y": "independent"}}
    },
    {
      "title": {"text": "HD 36395", "offset": -16}, "width": 749, "height": 342, "data": {"name": "hd36"},
      "layer": [
        {"mark": {"type": "errorbar", "ticks": false, "color": "#d3d3d3", "thickness": 3},
         "encoding": {
           "x": {"field": "t", "type": "quantitative", "scale": {"domain": [50105, 56948], "nice": false, "zero": false}, "axis": {"orient": "bottom", "values": [51000, 53000, 55000], "labels": false, "tickSize": 4, "title": null}},
           "y": {"field": "v", "type": "quantitative", "scale": {"domain": [-14.4, 20.02], "nice": false, "zero": false}, "axis": {"orient": "left", "values": [-5, 5, 15], "labels": false, "tickSize": 4, "title": null}},
           "yError": {"field": "e"}}},
        {"mark": {"type": "point", "filled": true, "opacity": 1, "size": 130},
         "encoding": {
           "x": {"field": "t", "type": "quantitative", "axis": {"orient": "bottom", "values": [52000, 54000, 56000], "format": "d", "title": "Date (MJD)", "titleX": 829, "titleY": 95, "titleAngle": 0, "titleAlign": "center", "titleBaseline": "alphabetic"}},
           "y": {"field": "v", "type": "quantitative", "axis": {"orient": "left", "values": [-10, 0, 10, 20], "format": "d", "title": null}},
           "color": {"field": "i", "type": "nominal"},
           "shape": {"field": "i", "type": "nominal"}}}
      ],
      "resolve": {"axis": {"x": "independent", "y": "independent"}}
    },
    {
      "title": "HD 42581", "width": 749, "height": 342, "data": {"name": "hd42"},
      "layer": [
        {"mark": {"type": "errorbar", "ticks": false, "color": "#d3d3d3", "thickness": 3},
         "encoding": {
           "x": {"field": "t", "type": "quantitative", "scale": {"domain": [50056, 58013], "nice": false, "zero": false}, "axis": {"orient": "bottom", "values": [51000, 53000, 55000, 57000], "labels": false, "tickSize": 4, "title": null}},
           "y": {"field": "v", "type": "quantitative", "scale": {"domain": [-12.17, 18.15], "nice": false, "zero": false}, "axis": {"orient": "left", "values": [-5, 5, 15], "labels": false, "tickSize": 4, "title": null}},
           "yError": {"field": "e"}}},
        {"mark": {"type": "point", "filled": true, "opacity": 1, "size": 130},
         "encoding": {
           "x": {"field": "t", "type": "quantitative", "axis": {"orient": "bottom", "values": [52000, 54000, 56000, 58000], "format": "d", "title": null}},
           "y": {"field": "v", "type": "quantitative", "axis": {"orient": "left", "values": [-10, 0, 10], "format": "d", "title": null}},
           "color": {"field": "i", "type": "nominal"},
           "shape": {"field": "i", "type": "nominal"}}}
      ],
      "resolve": {"axis": {"x": "independent", "y": "independent"}}
    }
  ],
  "columns": 2,
  "spacing": {"row": 138, "column": 188},
  "bounds": "flush"
}
